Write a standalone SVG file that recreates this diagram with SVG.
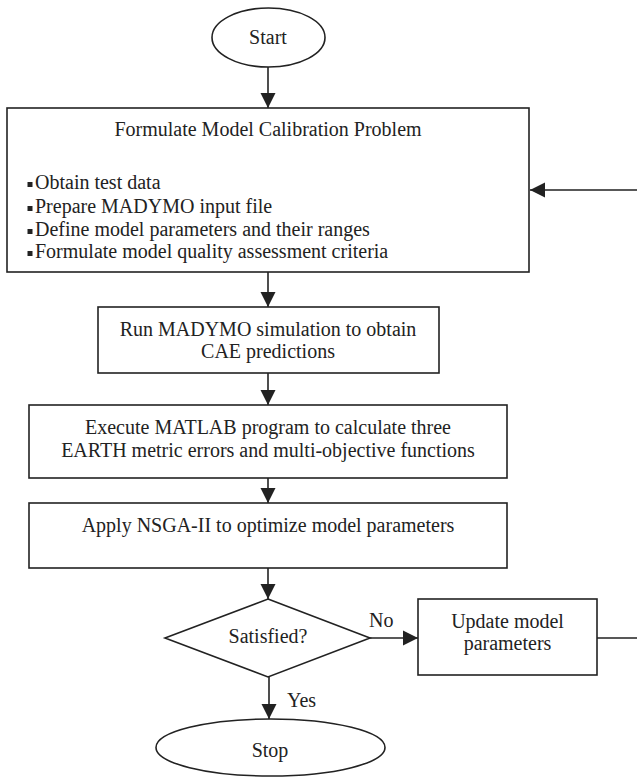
<svg xmlns="http://www.w3.org/2000/svg" width="637" height="777" viewBox="0 0 637 777">
<style>
.s{fill:#fff;stroke:#222;stroke-width:1.6}
.c{fill:none;stroke:#222;stroke-width:1.6}
text{font-family:"Liberation Serif","Times New Roman",serif;font-size:20px;fill:#222}
.m{text-anchor:middle}
.b{fill:#222}
</style>
<defs>
<marker id="ah" markerUnits="userSpaceOnUse" markerWidth="16" markerHeight="16" viewBox="0 0 16 16" refX="15" refY="8" orient="auto">
<path d="M0,0.5 L15,8 L0,15.5 Z" fill="#222"/>
</marker>
</defs>
<rect width="637" height="777" fill="#fff"/>
<g id="connectors">
<path class="c" d="M268,67 V108" marker-end="url(#ah)"/>
<path class="c" d="M268,272 V307" marker-end="url(#ah)"/>
<path class="c" d="M268,373 V405" marker-end="url(#ah)"/>
<path class="c" d="M268,478 V503" marker-end="url(#ah)"/>
<path class="c" d="M268,568 V599" marker-end="url(#ah)"/>
<path class="c" d="M370,638 H418" marker-end="url(#ah)"/>
<path class="c" d="M269,677 V719" marker-end="url(#ah)"/>
<path class="c" d="M597,638 H641 V190 H530" marker-end="url(#ah)"/>
<text x="369" y="627">No</text>
<text x="287" y="707">Yes</text>
</g>
<g id="start">
<ellipse class="s" cx="268.5" cy="37.5" rx="56.5" ry="29.5"/>
<text class="m" x="268" y="44">Start</text>
</g>
<g id="formulate">
<rect class="s" x="7" y="108" width="522" height="164"/>
<text class="m" x="268" y="136">Formulate Model Calibration Problem</text>
<rect class="b" x="27.5" y="182" width="5" height="5"/>
<rect class="b" x="27.5" y="206" width="5" height="5"/>
<rect class="b" x="27.5" y="229" width="5" height="5"/>
<rect class="b" x="27.5" y="251" width="5" height="5"/>
<text x="35" y="189">Obtain test data</text>
<text x="35" y="213">Prepare MADYMO input file</text>
<text x="35" y="236">Define model parameters and their ranges</text>
<text x="35" y="258">Formulate model quality assessment criteria</text>
</g>
<g id="run">
<rect class="s" x="98" y="307" width="341" height="66"/>
<text class="m" x="268" y="336">Run MADYMO simulation to obtain</text>
<text class="m" x="268" y="358">CAE predictions</text>
</g>
<g id="execute">
<rect class="s" x="29" y="405" width="478" height="73"/>
<text class="m" x="268" y="434">Execute MATLAB program to calculate three</text>
<text class="m" x="268" y="457">EARTH metric errors and multi-objective functions</text>
</g>
<g id="nsga">
<rect class="s" x="29" y="503" width="478" height="65"/>
<text class="m" x="268" y="532">Apply NSGA-II to optimize model parameters</text>
</g>
<g id="satisfied">
<polygon class="s" points="268,599 370,638 268,677 165,638"/>
<text class="m" x="268" y="643">Satisfied?</text>
</g>
<g id="update">
<rect class="s" x="418" y="599" width="179" height="76"/>
<text class="m" x="507.5" y="628">Update model</text>
<text class="m" x="507.5" y="650">parameters</text>
</g>
<g id="stop">
<ellipse class="s" cx="270.5" cy="747.5" rx="114.5" ry="28.5"/>
<text class="m" x="270" y="757">Stop</text>
</g>
</svg>
